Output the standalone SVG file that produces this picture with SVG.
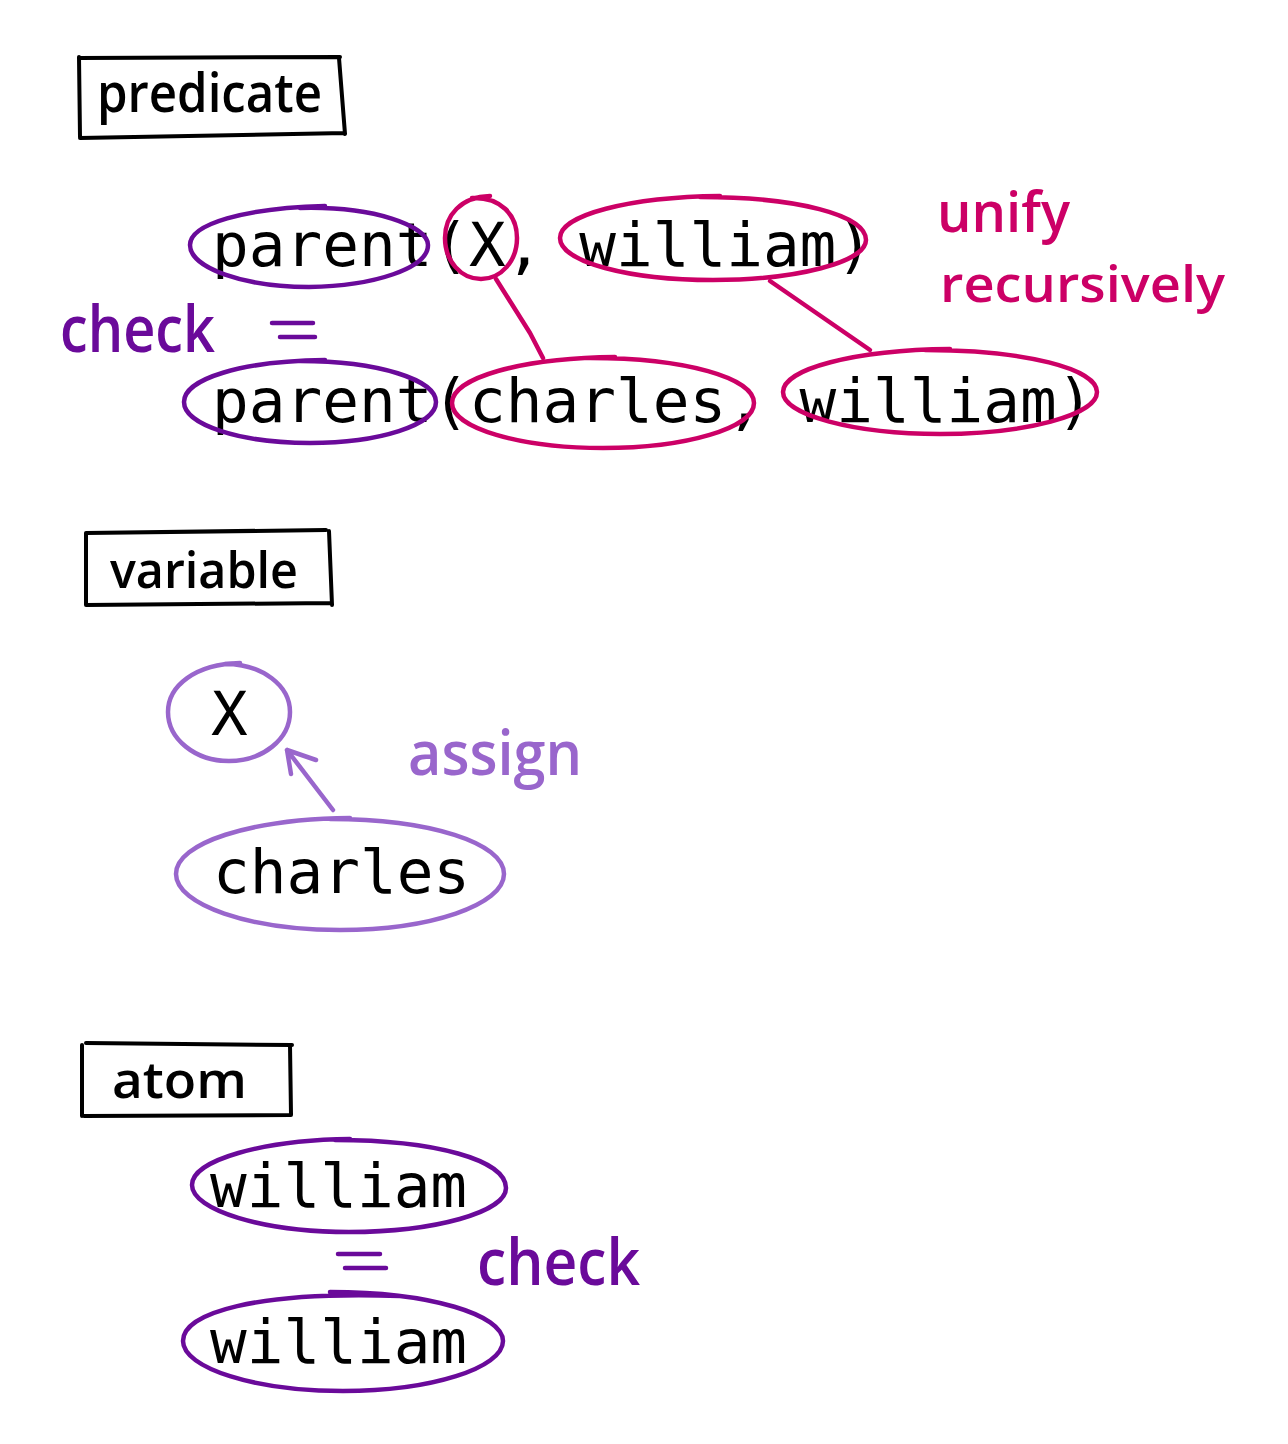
<svg xmlns="http://www.w3.org/2000/svg" width="1288" height="1444" viewBox="0 0 1288 1444">
<style>
.code{font-family:"DejaVu Sans Mono","Liberation Mono",monospace;font-size:61px;fill:#000}
.hand{font-family:"Open Sans","Noto Sans",sans-serif;font-weight:600}
.box{fill:none;stroke:#000;stroke-width:4;stroke-linecap:round;stroke-linejoin:round}
.loop{fill:none;stroke-width:4.5;stroke-linecap:round;stroke-linejoin:round}
.dp{stroke:#6a0a9a}
.mg{stroke:#cc0066}
.lp{stroke:#9966cc}
</style>
<rect width="1288" height="1444" fill="#fff"/>

<g id="label-predicate">
<path class="box" d="M79,58 L340,57 M339,58 L345,134 M80,138 L345,133 M79,57 L80,137"/>
<text class="hand" x="97" y="112" font-size="54" textLength="225" lengthAdjust="spacingAndGlyphs">predicate</text>
</g>

<g id="connectors">
<path class="loop mg" d="M496,279 L530,333 L543,358"/>
<path class="loop mg" d="M770,281 L870,350"/>
<path class="loop lp" d="M333,810 L287,750 M291,774 L287,750 L316,760"/>
</g>

<g id="pred-row1">
<text class="code" x="212" y="266">parent(X, william)</text>
</g>
<g id="pred-parent1">
<path class="loop dp" d="M300,208 C374,206 428,226 428,245 C428,268 375,286 309,287 C244,287 190,268 190,245 C190,224 244,208 325,206"/>
</g>
<g id="pred-X1">
<path class="loop mg" d="M472,198 C501,197 517,215 517,238 C517,261 501,279 481,279 C461,279 445,261 445,238 C445,215 461,197 490,196"/>
</g>
<g id="pred-william1">
<path class="loop mg" d="M700,197 C797,197 866,215 866,240 C866,262 797,280 713,280 C629,280 560,262 560,238 C560,215 629,197 720,196"/>
</g>

<g id="pred-row2">
<text class="code" x="212" y="422">parent(charles, william)</text>
</g>
<g id="pred-parent2">
<path class="loop dp" d="M300,361 C379,361 436,380 436,402 C436,425 379,443 310,443 C241,443 184,425 184,402 C184,379 241,361 325,360"/>
</g>
<g id="pred-charles2">
<path class="loop mg" d="M590,358 C686,358 754,378 754,403 C754,428 686,448 603,448 C520,448 452,428 452,403 C452,378 520,358 615,357"/>
</g>
<g id="pred-william2">
<path class="loop mg" d="M925,350 C1026,350 1097,369 1097,392 C1097,415 1026,434 940,434 C854,434 783,415 783,392 C783,369 854,350 950,349"/>
</g>

<g id="pred-check">
<text class="hand" x="60" y="352" font-size="66" textLength="155" lengthAdjust="spacingAndGlyphs" fill="#6a0a9a">check</text>
<path class="loop dp" d="M272,323 L313,323 M280,337 L315,337"/>
</g>
<g id="pred-unify">
<text class="hand" x="937" y="232" font-size="56" textLength="133" lengthAdjust="spacingAndGlyphs" fill="#cc0066">unify</text>
<text class="hand" x="940" y="302" font-size="50" textLength="285" lengthAdjust="spacingAndGlyphs" fill="#cc0066">recursively</text>
</g>

<g id="label-variable">
<path class="box" d="M86,533 L326,530 M329,531 L332,605 M86,605 L332,603 M86,533 L86,605"/>
<text class="hand" x="110" y="588" font-size="50" textLength="188" lengthAdjust="spacingAndGlyphs">variable</text>
</g>

<g id="var-X">
<path class="loop lp" d="M225,664 C263,664 290,686 290,712 C290,739 263,761 229,761 C195,761 168,739 168,712 C168,686 195,664 240,663"/>
<text class="code" x="211" y="735">X</text>
</g>
<g id="var-charles">
<path class="loop lp" d="M330,819 C430,819 504,843 504,874 C504,905 430,930 340,930 C250,930 176,905 176,874 C176,843 250,819 350,818"/>
<text class="code" x="213" y="893">charles</text>
</g>
<g id="var-assign">
<text class="hand" x="408" y="775" font-size="62" textLength="174" lengthAdjust="spacingAndGlyphs" fill="#9966cc">assign</text>
</g>

<g id="label-atom">
<path class="box" d="M86,1043 L292,1045 M290,1045 L291,1115 M84,1116 L290,1115 M82,1045 L82,1116"/>
<text class="hand" x="112" y="1098" font-size="50" textLength="135" lengthAdjust="spacingAndGlyphs">atom</text>
</g>

<g id="atom-william1">
<path class="loop dp" d="M335,1140 C435,1140 506,1160 506,1188 C506,1212 435,1232 349,1232 C263,1232 192,1210 192,1185 C192,1160 263,1140 350,1139"/>
<text class="code" x="210" y="1207">william</text>
</g>
<g id="atom-eq">
<path class="loop dp" d="M338,1254 L380,1254 M345,1268 L386,1268"/>
<text class="hand" x="477" y="1285" font-size="66" textLength="163" lengthAdjust="spacingAndGlyphs" fill="#6a0a9a">check</text>
</g>
<g id="atom-william2">
<path class="loop dp" d="M330,1292 C431,1292 503,1315 503,1341 C503,1368 431,1391 343,1391 C255,1391 183,1368 183,1341 C183,1313 255,1291 400,1296"/>
<text class="code" x="210" y="1363">william</text>
</g>
</svg>
